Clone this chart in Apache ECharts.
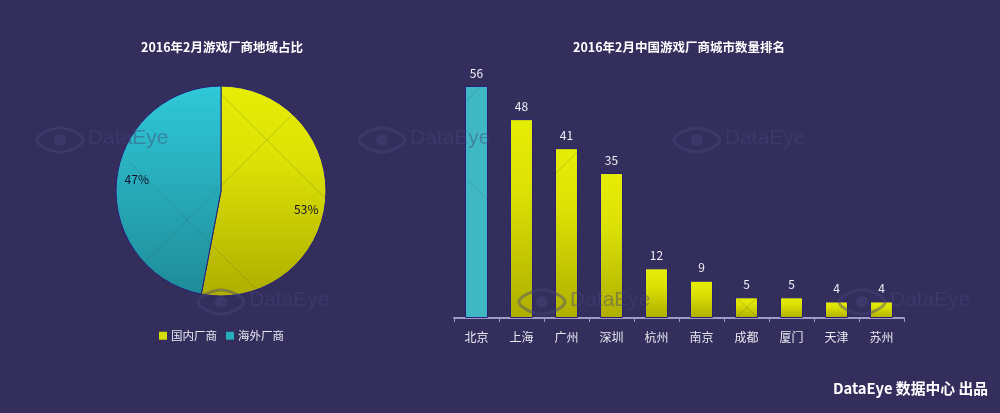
<!DOCTYPE html>
<html>
<head>
<meta charset="utf-8">
<script src="https://cdn.jsdelivr.net/npm/echarts@6/dist/echarts.min.js"></script>
<style>html,body{margin:0;padding:0;background:#332e5c}</style>
</head>
<body>
<div id="main" style="width:1000px;height:413px"></div>
<script>
const pieNames = ['国内厂商', '海外厂商'];
const pieValues = [53, 47];
const cities = ['北京', '上海', '广州', '深圳', '杭州', '南京', '成都', '厦门', '天津', '苏州'];
const cityValues = [56, 48, 41, 35, 12, 9, 5, 5, 4, 4];
const titles = ['2016年2月游戏厂商地域占比', '2016年2月中国游戏厂商城市数量排名'];
const footer = 'DataEye 数据中心 出品';

const font = '"Noto Sans CJK SC", sans-serif';
const wmColor = 'rgba(72,68,125,0.45)';
const yellow = {type: 'linear', x: 0, y: 0, x2: 0, y2: 1, colorStops: [
    {offset: 0, color: '#e6ed05'}, {offset: 0.35, color: '#dde205'}, {offset: 1, color: '#aeae00'}]};
const teal = {type: 'linear', x: 0, y: 0, x2: 0, y2: 1, colorStops: [
    {offset: 0, color: '#2fc9d8'}, {offset: 1, color: '#1f8b98'}]};

// watermark: eye + DataEye
function watermark(x, y) {
    return {
        type: 'group', x: x, y: y, silent: true,
        children: [
            {type: 'polygon', z: 100, shape: {points: [[1, 12], [24, 0], [47, 12], [24, 24]], smooth: 0.4},
                style: {fill: 'none', stroke: wmColor, lineWidth: 3}},
            {type: 'circle', z: 100, shape: {cx: 24, cy: 12, r: 6}, style: {fill: wmColor}},
            {type: 'text', z: 100, x: 52, y: 0, style: {text: 'DataEye', fill: wmColor, font: '21px "Liberation Sans", sans-serif'}}
        ]
    };
}

// faint lattice lines, only show up on the bright marks
function hair(x1, y1, x2, y2) {
    return {type: 'line', z: 100, silent: true, shape: {x1: x1, y1: y1, x2: x2, y2: y2},
        style: {stroke: 'rgba(60,60,80,0.2)', lineWidth: 1}};
}

var option = {
    backgroundColor: '#332e5c',
    animation: false,
    title: [
        {text: titles[0], left: 217, top: 36, textAlign: 'center', textStyle: {color: '#fff', fontSize: 12.5, fontWeight: 'bold', fontFamily: font}},
        {text: titles[1], left: 674, top: 36, textAlign: 'center', textStyle: {color: '#fff', fontSize: 12.5, fontWeight: 'bold', fontFamily: font}}
    ],
    legend: {
        left: 154, top: 325, itemWidth: 8, itemHeight: 8, itemGap: 9, icon: 'rect',
        data: pieNames.map(function (n, i) {
            return {name: n, itemStyle: {color: i === 0 ? '#d6dc04' : '#27aebc', borderWidth: 0}};
        }),
        textStyle: {color: '#e8e8f0', fontSize: 11.5, fontFamily: font, padding: [0, 0, 0, -1]}
    },
    grid: {left: 454, top: 86, width: 450, height: 232},
    xAxis: {
        type: 'category', data: cities,
        axisLine: {lineStyle: {color: '#a09ac8', width: 2}},
        axisTick: {show: true, length: 4, alignWithLabel: false, lineStyle: {color: '#a09ac8'}},
        axisLabel: {color: '#e8e8f0', fontSize: 12, fontFamily: font, margin: 13, interval: 0}
    },
    yAxis: {type: 'value', min: 0, max: 56, show: false, splitLine: {show: false}},
    series: [{
        type: 'pie',
        center: [221, 191],
        radius: [0, 105],
        startAngle: 90,
        clockwise: true,
        label: {show: true, position: 'inside', formatter: '{c}%', color: '#10102a', fontSize: 12, fontFamily: font},
        labelLine: {show: false},
        labelLayout: function (p) {
            return p.dataIndex === 0 ? {dx: 30, dy: 13} : {dx: -29, dy: -6};
        },
        itemStyle: {borderColor: '#2a1f78', borderWidth: 1},
        data: pieNames.map(function (n, i) {
            return {name: n, value: pieValues[i], itemStyle: {color: i === 0 ? yellow : teal}};
        })
    }, {
        type: 'bar',
        barWidth: 23,
        label: {show: true, position: 'top', distance: 7, color: '#f0f0f8', fontSize: 12, fontFamily: font},
        itemStyle: {borderColor: '#2a1f78', borderWidth: 1},
        data: cityValues.map(function (v, i) {
            return {value: v, itemStyle: {color: i === 0 ? '#3fb8c4' : yellow}};
        })
    }],
    graphic: [
        watermark(36, 128), watermark(358, 128), watermark(673, 128),
        watermark(197, 290), watermark(518, 290), watermark(838, 290),
        hair(222, 95, 325, 198), hair(292, 115, 145, 262), hair(127, 160, 255, 288),
        hair(465, 102, 480, 87), hair(467, 180, 489, 201), hair(556, 173, 578, 151),
        hair(590, 151, 610, 171), hair(736, 297, 758, 318), hair(758, 297, 736, 318),
        {type: 'text', right: 12, top: 381, z: 100, style: {text: footer, fill: '#fff', font: 'bold 14.8px ' + font}}
    ]
};

var myChart = echarts.init(document.getElementById('main'));
myChart.setOption(option);
</script>
</body>
</html>
